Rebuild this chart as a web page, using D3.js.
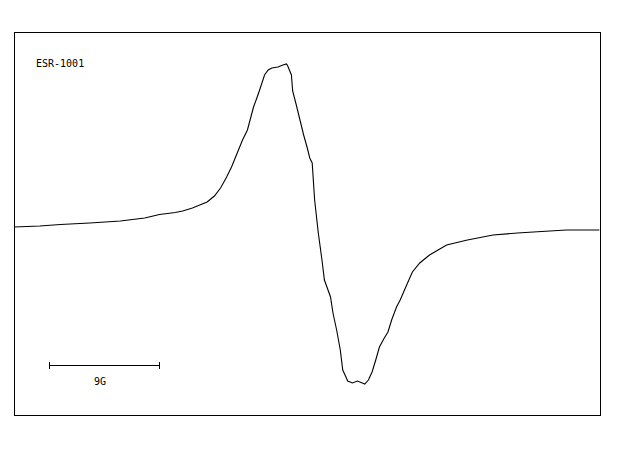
<!DOCTYPE html>
<html>
<head>
<meta charset="utf-8">
<script src="https://cdn.jsdelivr.net/npm/d3@7"></script>
<style>
  html, body { margin: 0; padding: 0; background: #fff; }
  svg { display: block; }
</style>
</head>
<body>
<svg id="chart" width="620" height="455"></svg>
<script>
// Magnetic field offset (G)
const field = [0, 2.1, 3.8, 6.2, 8.7, 10.7, 11.9, 13.2, 13.8, 14.6, 15.2, 15.8,
  16.4, 16.9, 17.4, 17.8, 18.2, 18.7, 19.1, 19.6, 19.9, 20.1, 20.5, 20.8, 21.1, 21.6, 22.0, 22.3,
  22.4, 22.7, 22.8, 23.1, 23.4, 23.7, 24.0, 24.2, 24.4, 24.6, 24.9, 25.2, 25.4, 25.9, 26.1, 26.4,
  26.7, 26.9, 27.2, 27.3, 27.7, 28.1, 28.5, 28.7, 29.0, 29.3, 29.6, 29.9, 30.3, 30.6, 30.9, 31.3,
  31.6, 32.2, 32.6, 33.2, 34.0, 34.7, 35.4, 37.1, 39.2, 41.2, 42.5, 45.2, 47.9];
// ESR first-derivative signal (arbitrary units)
const signal = [1, 2, 3.5, 5, 7, 10, 13.5, 15.5, 17, 20, 23, 26,
  32, 40, 51, 61, 73, 88, 98, 121, 131, 138, 153, 158, 160, 161, 163, 164,
  162, 153, 137, 123, 108, 93, 80, 70, 65, 28, -5, -32, -52, -69, -85, -102,
  -122, -142, -150, -153, -155, -153, -155, -156, -152, -144, -132, -119, -110, -104, -92, -79,
  -72, -55, -44, -35, -27, -22, -17, -12, -7, -5, -4, -2, -2];
const sampleLabel = "ESR-1001";
const scaleBarG = [2.9, 11.9];
const scaleBarLabel = "9G";

const svg = d3.select("#chart");
const pL = 14, pR = 600, pT = 32, pB = 415;

const x = d3.scaleLinear().domain([0, 47.95]).range([pL, pR]);
const y = d3.scaleLinear().domain([-187, 196]).range([pB, pT]);

// frame
svg.append("rect")
  .attr("x", pL + 0.5).attr("y", pT + 0.5)
  .attr("width", pR - pL).attr("height", pB - pT)
  .attr("fill", "none").attr("stroke", "#000").attr("stroke-width", 1)
  .attr("shape-rendering", "crispEdges");

const data = field.map((f, i) => [f, signal[i]]);
const line = d3.line().x(d => x(d[0])).y(d => y(d[1]));

svg.append("path")
  .datum(data)
  .attr("d", line)
  .attr("fill", "none")
  .attr("stroke", "#000")
  .attr("stroke-width", 1.1);

svg.append("text")
  .attr("x", 36).attr("y", 67)
  .attr("font-family", "DejaVu Sans Mono")
  .attr("font-size", 10)
  .attr("fill", "#000")
  .text(sampleLabel);

// scale bar
const sb = svg.append("g").attr("stroke", "#000").attr("stroke-width", 1).attr("shape-rendering", "crispEdges");
const x0 = Math.round(x(scaleBarG[0])) + 0.5, x1 = Math.round(x(scaleBarG[1])) + 0.5;
sb.append("line").attr("x1", x0).attr("x2", x1).attr("y1", 365.5).attr("y2", 365.5);
sb.append("line").attr("x1", x0).attr("x2", x0).attr("y1", 362).attr("y2", 369);
sb.append("line").attr("x1", x1).attr("x2", x1).attr("y1", 362).attr("y2", 369);

svg.append("text")
  .attr("x", 100).attr("y", 385)
  .attr("text-anchor", "middle")
  .attr("font-family", "DejaVu Sans Mono")
  .attr("font-size", 10)
  .attr("fill", "#000")
  .text(scaleBarLabel);
</script>
</body>
</html>
